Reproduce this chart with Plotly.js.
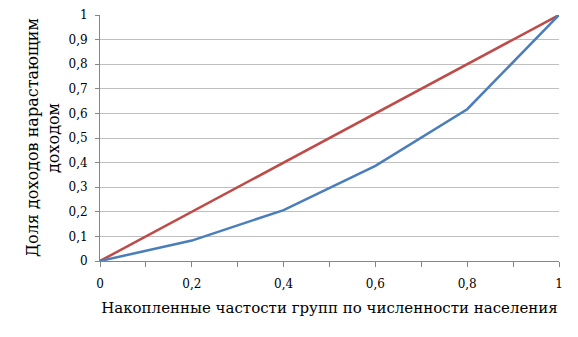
<!DOCTYPE html>
<html><head><meta charset="utf-8">
<script src="https://cdn.plot.ly/plotly-3.0.1.min.js"></script>
<style>html,body{margin:0;padding:0;background:#fff}#c{width:578px;height:337px}</style>
</head><body><div id="c"></div>
<script>
const populationShare = [0, 0.2, 0.4, 0.6, 0.8, 1];
const incomeShare = [0, 0.083, 0.207, 0.387, 0.617, 1];
const equalityX = [0, 1];
const equalityY = [0, 1];
const xTitle = 'Накопленные частости групп по численности населения';
const yTitleLines = ['Доля доходов нарастающим', 'доходом'];

const traces = [
  {x: equalityX, y: equalityY, mode: 'lines', line: {color: '#BE4B48', width: 2.5}, hoverinfo: 'skip'},
  {x: populationShare, y: incomeShare, mode: 'lines', line: {color: '#4A7EBB', width: 2.5}, hoverinfo: 'skip'}
];
const font = {family: 'DejaVu Serif', color: '#000'};
const layout = {
  width: 578, height: 337,
  margin: {l: 100, r: 19, t: 15, b: 76},
  paper_bgcolor: '#fff', plot_bgcolor: '#fff',
  showlegend: false,
  separators: ', ',
  font: Object.assign({size: 12}, font),
  xaxis: {
    range: [0, 1], dtick: 0.2, tick0: 0, ticks: 'outside', ticklen: 5, tickcolor: '#868686',
    showgrid: false, zeroline: false, showline: true, linecolor: '#868686', linewidth: 1,
    minor: {dtick: 0.1, ticks: 'outside', ticklen: 5, tickcolor: '#868686'},
    ticklabelstandoff: 7,
    tickfont: Object.assign({size: 12}, font),
    title: {text: xTitle, font: Object.assign({size: 15}, font), standoff: 12}
  },
  yaxis: {
    range: [0, 1], dtick: 0.1, tick0: 0, ticks: 'outside', ticklen: 4, tickcolor: '#868686',
    showgrid: true, gridcolor: '#BFBFBF', gridwidth: 1, zeroline: false,
    showline: true, linecolor: '#868686', linewidth: 1,
    ticklabelstandoff: 5,
    tickfont: Object.assign({size: 12}, font)
  },
  annotations: yTitleLines.map((t, i) => ({
    text: t, xref: 'paper', yref: 'paper', x: 0, y: 0.5,
    xanchor: 'center', yanchor: 'middle', xshift: i === 0 ? -68 : -47,
    textangle: -90, showarrow: false, font: Object.assign({size: 16}, font)
  }))
};
Plotly.newPlot('c', traces, layout, {staticPlot: true, displayModeBar: false});
</script></body></html>
